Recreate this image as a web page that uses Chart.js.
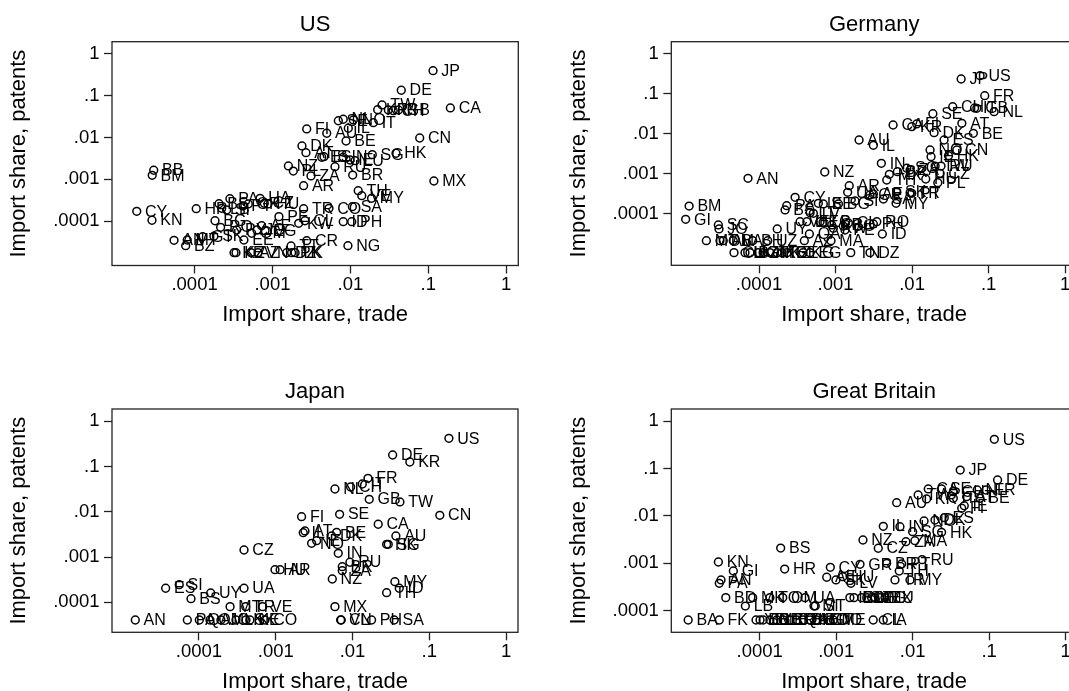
<!DOCTYPE html>
<html>
<head>
<meta charset="utf-8">
<title>Import shares, patents against trade</title>
<script src="https://cdn.jsdelivr.net/npm/chart.js@4"></script>
<style>
html, body { margin: 0; padding: 0; background: #fff; overflow: hidden; width: 1069px; height: 691px; }
canvas { position: absolute; }
</style>
</head>
<body>
<canvas id="usChart"></canvas>
<canvas id="deChart"></canvas>
<canvas id="jpChart"></canvas>
<canvas id="gbChart"></canvas>
<script>
// tick labels (same on every axis)
var tickValues = [0.0001, 0.001, 0.01, 0.1, 1];
var tickNames = ['.0001', '.001', '.01', '.1', '1'];

// US
var usNames = ['JP','CA','DE','TW','KR','FR','CH','GB','CN','HK','SG','IT','SE','NL','NO','IL','AU','FI','BE','DK','AT','ES','IS','IN','IE','LU','RU','NZ','PL','ZA','AR','BR','MX','TH','VE','MY','SA','CO','TR','KW','CL','ID','PH','CR','NG','TT','BB','BM','CY','KN','HR','PA','UA','BS','LB','SI','GR','PT','CZ','HU','BG','PE','RO','PY','AE','EG','OM','JO','AN','MT','BZ','GT','SK','EE','KE','KZ','AZ','VN','DZ','PK','LK'];
var usX = [0.115,0.192,0.045,0.0255,0.0224,0.0307,0.0355,0.0414,0.0776,0.0385,0.0191,0.0197,0.007,0.0081,0.0109,0.0094,0.00497,0.00275,0.0088,0.00239,0.00269,0.00429,0.00458,0.0081,0.0099,0.0115,0.00634,0.0016,0.00185,0.00312,0.00251,0.0107,0.118,0.0126,0.014,0.0187,0.0106,0.00531,0.00251,0.00217,0.00261,0.0081,0.0104,0.00275,0.0093,0.00173,0.0000299,0.0000286,0.0000181,0.0000284,0.000105,0.000284,0.000692,0.000206,0.000223,0.000258,0.000489,0.000418,0.000785,0.000875,0.000183,0.00121,0.000216,0.000347,0.000726,0.000802,0.000541,0.000632,0.0000545,0.0000805,0.0000769,0.000127,0.000177,0.00043,0.000321,0.00034,0.00053,0.000652,0.00152,0.00176,0.00195];
var usY = [0.393,0.0506,0.134,0.0597,0.046,0.0453,0.0437,0.0453,0.00973,0.0042,0.00389,0.0225,0.0251,0.0272,0.0262,0.0166,0.0126,0.016,0.00825,0.00627,0.00434,0.00337,0.00348,0.00337,0.0029,0.00279,0.00201,0.00209,0.00158,0.00121,0.000708,0.00127,0.000916,0.000537,0.000408,0.000354,0.000223,0.000204,0.0002,0.0000895,0.000103,0.0000977,0.0000977,0.0000344,0.0000262,0.0000257,0.00165,0.00125,0.000173,0.000106,0.0002,0.000346,0.000354,0.000263,0.000204,0.000186,0.000259,0.000232,0.000269,0.000259,0.000103,0.000129,0.0000719,0.000062,0.0000785,0.0000597,0.0000518,0.000062,0.0000352,0.0000358,0.0000262,0.0000429,0.0000439,0.0000358,0.0000178,0.0000178,0.0000178,0.0000178,0.0000178,0.0000178,0.0000178];

// Germany
var deNames = ['US','JP','FR','NL','GB','IT','CH','SE','AT','BE','CA','KR','FI','DK','ES','NO','IE','CN','HK','AU','IL','IN','SG','RU','TW','ZA','BR','MX','TH','HU','CZ','PL','TR','PT','SK','GR','SA','AE','MY','AR','UA','NZ','AN','CY','PA','BS','IS','EE','BG','SI','LT','LV','BM','GI','SC','JO','UY','VE','LU','EC','LB','CR','KW','CO','PE','QA','CL','RO','PH','ID','MT','OM','AL','BA','BH','UZ','AZ','MA','CU','LK','BZ','GT','JM','TT','KE','KZ','GE','KG','EG','TN','DZ'];
var deX = [0.0774,0.0438,0.0891,0.118,0.0702,0.0656,0.034,0.0187,0.0447,0.0632,0.00565,0.00991,0.0115,0.0194,0.0262,0.0172,0.0177,0.0384,0.0299,0.00203,0.00312,0.00397,0.00853,0.0239,0.02,0.00942,0.00643,0.00505,0.00467,0.0151,0.0232,0.0217,0.00942,0.00991,0.00631,0.00282,0.00422,0.00312,0.00618,0.00151,0.00144,0.000723,0.0000718,0.000296,0.00023,0.000219,0.000596,0.000693,0.00109,0.0018,0.000465,0.000513,0.0000122,0.000011,0.0000294,0.00003,0.000173,0.000344,0.000421,0.000627,0.000687,0.000891,0.000935,0.00126,0.00133,0.000455,0.00147,0.00346,0.00312,0.00409,0.0000205,0.0000309,0.0000341,0.0000461,0.0000828,0.00013,0.000391,0.000873,0.0000471,0.0000656,0.0000762,0.000097,0.000113,0.000139,0.000172,0.0002,0.000232,0.000376,0.000465,0.00158,0.00282];
var deY = [0.287,0.237,0.0906,0.0361,0.0439,0.0447,0.0481,0.0321,0.0185,0.0104,0.0168,0.0152,0.0178,0.0108,0.00708,0.00398,0.00271,0.00398,0.00287,0.00708,0.00521,0.00185,0.00139,0.00158,0.00158,0.00126,0.00114,0.000982,0.000708,0.00075,0.00104,0.000606,0.00034,0.000329,0.000361,0.000299,0.000237,0.000316,0.000185,0.000509,0.000348,0.00112,0.00078,0.000261,0.000161,0.000126,0.000185,0.000178,0.000178,0.000211,0.000108,0.000104,0.000158,0.0000736,0.0000531,0.0000422,0.0000422,0.0000642,0.0000642,0.0000642,0.000062,0.0000531,0.0000439,0.0000501,0.0000398,0.0000316,0.0000596,0.0000642,0.0000562,0.0000316,0.0000215,0.0000215,0.0000215,0.0000215,0.0000215,0.0000215,0.0000215,0.0000215,0.0000108,0.0000108,0.0000108,0.0000108,0.0000108,0.0000108,0.0000108,0.0000108,0.0000108,0.0000108,0.0000108,0.0000108,0.0000108];

// Japan
var jpNames = ['US','DE','KR','FR','IT','CH','NL','GB','TW','SE','FI','CN','CA','AT','IL','BE','DK','AU','NO','IE','SG','HK','IN','CZ','RU','BR','ZA','HU','AR','NZ','MY','ID','TH','UA','SI','ES','UY','BS','MT','TR','VE','MX','AN','PA','QA','OM','JO','LK','SK','KE','CO','CL','VN','PH','SA'];
var jpX = [0.18,0.0333,0.0558,0.0159,0.0134,0.00944,0.0059,0.0165,0.0414,0.00679,0.00217,0.137,0.0216,0.0024,0.00228,0.00621,0.00535,0.0367,0.00293,0.00341,0.0292,0.0278,0.00652,0.000386,0.00925,0.00735,0.00735,0.000977,0.00114,0.00545,0.0356,0.0406,0.0278,0.000386,0.0000553,0.0000368,0.000142,0.0000787,0.000254,0.000406,0.000675,0.0059,0.0000148,0.0000705,0.000101,0.000139,0.000193,0.000303,0.000409,0.000461,0.000723,0.007,0.00713,0.0177,0.0349];
var jpY = [0.421,0.18,0.126,0.055,0.0411,0.0353,0.0319,0.0189,0.0165,0.00881,0.0078,0.00837,0.0053,0.00377,0.00345,0.00352,0.00292,0.00292,0.00201,0.0023,0.00191,0.00191,0.00121,0.00143,0.000766,0.000612,0.000499,0.000525,0.000525,0.000327,0.000285,0.000204,0.000163,0.000204,0.000245,0.000204,0.000161,0.00012,0.00008,0.00008,0.00008,0.00008,0.0000406,0.0000406,0.0000406,0.0000406,0.0000406,0.0000406,0.0000406,0.0000406,0.0000406,0.0000406,0.0000406,0.0000406,0.0000406];

// Great Britain
var gbNames = ['US','JP','DE','FR','NL','CA','SE','CH','AU','TW','KR','IT','AT','BE','IE','FI','IL','IN','SG','NO','DK','ES','HK','NZ','CZ','ZA','MA','RU','GR','BR','PT','TH','TR','MY','BS','KN','GI','HR','CY','AN','PA','BD','MK','TO','OM','UA','LB','MT','SI','AE','SK','HU','LV','IS','EC','SA','LT','VE','EG','MX','LU','BA','FK','YE','BB','JM','GE','LK','CR','BZ','QA','BH','KE','BO','GT','DO','ME','CL','IA'];
var gbX = [0.117,0.0419,0.129,0.0908,0.0698,0.016,0.0239,0.034,0.00618,0.0118,0.0152,0.034,0.0508,0.0759,0.0473,0.0438,0.00413,0.00682,0.01,0.0141,0.0196,0.0259,0.0239,0.00224,0.00355,0.00817,0.0107,0.0133,0.00205,0.00457,0.00718,0.00668,0.00587,0.00923,0.000188,0.0000288,0.0000452,0.000212,0.000838,0.0000312,0.0000296,0.000036,0.0000809,0.000136,0.0002,0.000391,0.0000649,0.000513,0.000533,0.000752,0.000993,0.00122,0.00156,0.00151,0.00171,0.00215,0.00251,0.00291,0.00321,0.00374,0.00435,0.0000116,0.0000296,0.0000895,0.000101,0.000111,0.000136,0.000167,0.000203,0.000249,0.000305,0.000372,0.000455,0.000556,0.000678,0.00083,0.000916,0.00305,0.00413];
var gbY = [0.416,0.0933,0.0574,0.0353,0.0353,0.0371,0.0371,0.0325,0.019,0.0277,0.0228,0.0236,0.0255,0.0236,0.0164,0.0145,0.00603,0.00592,0.00463,0.0078,0.00818,0.00916,0.0045,0.00309,0.00207,0.00285,0.00299,0.00119,0.000948,0.000995,0.000962,0.000684,0.000442,0.000442,0.00209,0.00106,0.000684,0.000753,0.000818,0.000442,0.000376,0.000187,0.000187,0.000187,0.000187,0.000187,0.000124,0.000124,0.000125,0.000504,0.000442,0.000519,0.000376,0.000187,0.000187,0.000187,0.000187,0.000187,0.000187,0.000187,0.000187,0.000063,0.000063,0.000063,0.000063,0.000063,0.000063,0.000063,0.000063,0.000063,0.000063,0.000063,0.000063,0.000063,0.000063,0.000063,0.000063,0.000063,0.000063];

Chart.defaults.font.family = '"Liberation Sans", Helvetica, Arial, sans-serif';
Chart.defaults.color = '#000';

// country codes next to the markers
var codeLabels = {
    id: 'codeLabels',
    afterDatasetsDraw: function (chart) {
        var ctx = chart.ctx;
        var meta = chart.getDatasetMeta(0);
        var names = chart.data.datasets[0].names;
        ctx.save();
        ctx.font = '16px "Liberation Sans", Helvetica, Arial, sans-serif';
        ctx.fillStyle = '#000';
        ctx.textAlign = 'left';
        ctx.textBaseline = 'middle';
        meta.data.forEach(function (pt, i) {
            ctx.fillText(names[i], pt.x + 8.3, pt.y + 0.8);
        });
        ctx.restore();
    }
};

// the frame round the plot region
var plotFrame = {
    id: 'plotFrame',
    beforeDatasetsDraw: function (chart) {
        var a = chart.chartArea;
        var ctx = chart.ctx;
        ctx.save();
        ctx.strokeStyle = '#222';
        ctx.lineWidth = 1.3;
        ctx.strokeRect(a.left, a.top, a.right - a.left, a.bottom - a.top);
        ctx.restore();
    }
};

function logAxis(name, min, max, size, titlePad, tickPad) {
    return {
        type: 'logarithmic',
        min: min,
        max: max,
        bounds: 'data',
        afterBuildTicks: function (axis) {
            axis.ticks = tickValues.map(function (v) { return { value: v }; });
        },
        afterFit: function (axis) {
            if (axis.isHorizontal()) { axis.height = size; } else { axis.width = size; }
        },
        grid: { drawOnChartArea: false, drawTicks: true, tickLength: 8, tickColor: '#222', tickWidth: 1.3 },
        border: { display: false },
        ticks: {
            autoSkip: false,
            maxRotation: 0,
            padding: tickPad,
            font: { size: 18.5 },
            callback: function (v) { return tickNames[tickValues.indexOf(v)]; }
        },
        title: {
            display: true,
            text: name,
            font: { size: 22, lineHeight: 1.2 },
            padding: { top: titlePad, bottom: 0 }
        }
    };
}

function drawPanel(id, title, names, xs, ys, box) {
    var canvas = document.getElementById(id);
    canvas.width = box.width;
    canvas.height = box.height;
    canvas.style.left = box.left + 'px';
    canvas.style.top = box.top + 'px';
    var points = xs.map(function (v, i) { return { x: v, y: ys[i] }; });
    return new Chart(canvas.getContext('2d'), {
        type: 'scatter',
        data: {
            datasets: [{
                names: names,
                data: points,
                pointStyle: 'circle',
                pointRadius: 3.9,
                pointBorderWidth: 1.5,
                pointBorderColor: '#000',
                pointBackgroundColor: 'rgba(0,0,0,0)'
            }]
        },
        options: {
            responsive: false,
            animation: false,
            clip: false,
            layout: { padding: { left: 0, top: box.titleTop, right: box.right, bottom: box.bottom } },
            plugins: {
                legend: { display: false },
                tooltip: { enabled: false },
                title: {
                    display: true,
                    text: title,
                    fullSize: false,
                    font: { size: 22, weight: 'normal', lineHeight: 1.2 },
                    padding: { top: 0, bottom: box.titleGap }
                }
            },
            scales: {
                x: logAxis('Import share, trade', box.xMin, box.xMax, box.xAxis, 0.3, 0.4),
                y: logAxis('Import share, patents', box.yMin, box.yMax, box.yAxis, 5.3, 4.5)
            }
        },
        plugins: [plotFrame, codeLabels]
    });
}

drawPanel('usChart', 'US', usNames, usX, usY, {
    left: 0, top: 0, width: 535, height: 345, titleTop: 11.3, titleGap: 4, right: 16.7, bottom: 16.5,
    xAxis: 63, yAxis: 112, xMin: 8.71e-6, xMax: 1.43, yMin: 8.81e-6, yMax: 1.93
});
drawPanel('deChart', 'Germany', deNames, deX, deY, {
    left: 560, top: 0, width: 530, height: 345, titleTop: 11.3, titleGap: 4, right: 13, bottom: 16.5,
    xAxis: 63.2, yAxis: 111.3, xMin: 7.14e-6, xMax: 1.43, yMin: 5.21e-6, yMax: 2.03
});
drawPanel('jpChart', 'Japan', jpNames, jpX, jpY, {
    left: 0, top: 350, width: 535, height: 350, titleTop: 28.6, titleGap: 4, right: 17, bottom: 4.5,
    xAxis: 63.2, yAxis: 112, xMin: 7.36e-6, xMax: 1.43, yMin: 2.17e-5, yMax: 1.87
});
drawPanel('gbChart', 'Great Britain', gbNames, gbX, gbY, {
    left: 560, top: 350, width: 530, height: 350, titleTop: 28.6, titleGap: 4, right: 13, bottom: 4.5,
    xAxis: 63.2, yAxis: 111.3, xMin: 6.98e-6, xMax: 1.41, yMin: 3.46e-5, yMax: 1.82
});
</script>
</body>
</html>
